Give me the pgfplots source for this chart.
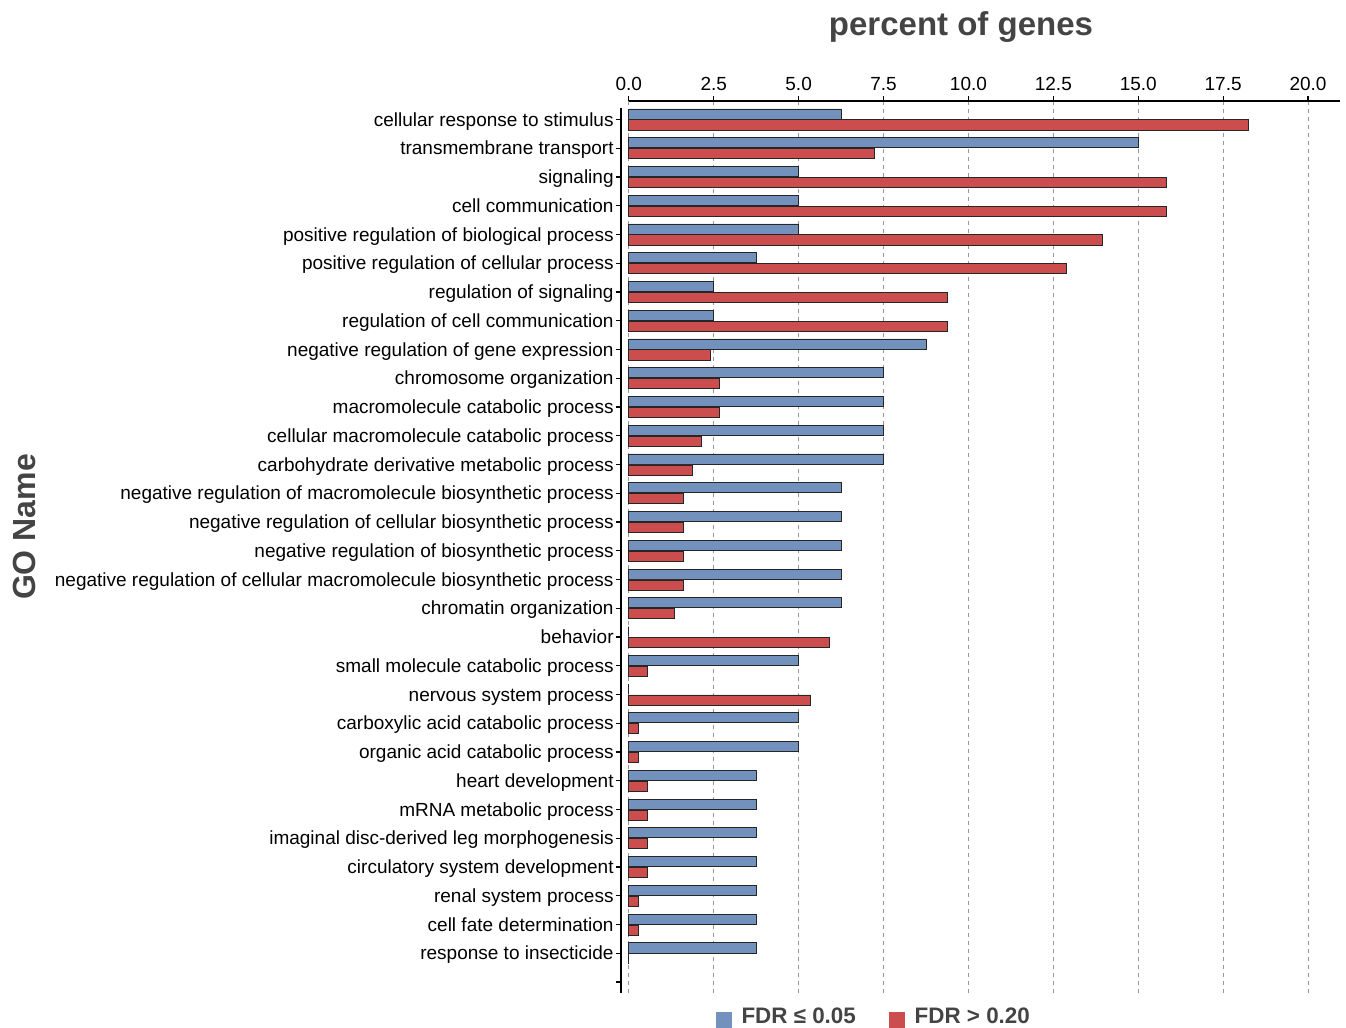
\documentclass[border=0pt]{standalone}
\usepackage{pgfplots}
\pgfplotsset{compat=1.18}
\usepackage{fontspec}
\setmainfont{Liberation Sans}
\definecolor{fdrblue}{HTML}{7391BD}
\definecolor{fdrred}{HTML}{CB4D4E}
\definecolor{titlegray}{HTML}{444444}
\begin{document}
\begin{tikzpicture}
\useasboundingbox (0,0) rectangle (673pt,-514pt);
\begin{axis}[
  at={(310.5pt,-50.5pt)}, anchor=north west,
  scale only axis, width=359.5pt, height=446pt,
  xmin=-0.23, xmax=20.94,
  ymin=-0.64, ymax=30.38, y dir=reverse,
  axis line style={draw=none},
  clip=false,
  xbar,
  bar width=0.35,
  xtick={0,2.5,...,20},
  xtick pos=upper, xticklabel pos=upper,
  xticklabel style={/pgf/number format/fixed,/pgf/number format/fixed zerofill,/pgf/number format/precision=1, yshift=-1pt},
  /pgf/number format/assume math mode=true,
  ytick={0,...,30},
  ytick pos=lower,
  yticklabels={cellular response to stimulus,transmembrane transport,signaling,cell communication,positive regulation of biological process,positive regulation of cellular process,regulation of signaling,regulation of cell communication,negative regulation of gene expression,chromosome organization,macromolecule catabolic process,cellular macromolecule catabolic process,carbohydrate derivative metabolic process,negative regulation of macromolecule biosynthetic process,negative regulation of cellular biosynthetic process,negative regulation of biosynthetic process,negative regulation of cellular macromolecule biosynthetic process,chromatin organization,behavior,small molecule catabolic process,nervous system process,carboxylic acid catabolic process,organic acid catabolic process,heart development,mRNA metabolic process,imaginal disc-derived leg morphogenesis,circulatory system development,renal system process,cell fate determination,response to insecticide,{}},
  tick align=outside,
  major tick length=2.5pt,
  tick style={black, line width=0.6pt},
  ticklabel style={font=\fontsize{9.5}{11}\selectfont, text=black},
  yticklabel style={inner sep=1pt, anchor=base east, yshift=-3.3pt},
  xmajorgrids,
  grid style={gray!80, dash pattern=on 2pt off 2pt, line width=0.5pt},
  legend columns=2,
  legend style={draw=none, fill=none, at={(0.353,-0.027)}, anchor=center,
    font=\bfseries\fontsize{11.2}{13}\selectfont, text=titlegray,
    /tikz/every even column/.append style={column sep=14.5pt}},
]
\addplot[fill=fdrblue, draw=black!85, line width=0.4pt, bar shift=-0.19,
  legend image code/.code={\fill[fdrblue] (0pt,-5.25pt) rectangle (7.5pt,2.25pt); \path (10.5pt,0pt);}]
coordinates {
(6.25,0) (15,1) (5,2) (5,3) (5,4) (3.75,5) (2.5,6) (2.5,7) (8.75,8) (7.5,9)
(7.5,10) (7.5,11) (7.5,12) (6.25,13) (6.25,14) (6.25,15) (6.25,16) (6.25,17) (0,18) (5,19)
(0,20) (5,21) (5,22) (3.75,23) (3.75,24) (3.75,25) (3.75,26) (3.75,27) (3.75,28) (3.75,29)
};
\addlegendentry{FDR ≤ 0.05}
\addplot[fill=fdrred, draw=black!85, line width=0.4pt, bar shift=0.19,
  legend image code/.code={\fill[fdrred] (0pt,-5.25pt) rectangle (7.5pt,2.25pt); \path (10.5pt,0pt);}]
coordinates {
(18.23,0) (7.24,1) (15.82,2) (15.82,3) (13.94,4) (12.87,5) (9.38,6) (9.38,7) (2.41,8) (2.68,9)
(2.68,10) (2.14,11) (1.88,12) (1.61,13) (1.61,14) (1.61,15) (1.61,16) (1.34,17) (5.90,18) (0.54,19)
(5.36,20) (0.27,21) (0.27,22) (0.54,23) (0.54,24) (0.54,25) (0.54,26) (0.27,27) (0.27,28) (0,29)
};
\addlegendentry{FDR > 0.20}
\draw[black, line width=0.6pt] (axis cs:0,-0.64) -- (axis cs:20.94,-0.64);
\draw[black, line width=1pt] (axis cs:-0.23,-0.38) -- (axis cs:-0.23,30.38);
\end{axis}
\node[font=\bfseries\fontsize{16.5}{19}\selectfont, text=titlegray] at (480.5pt,-13.5pt) {percent of genes};
\node[font=\bfseries\fontsize{16}{19}\selectfont, text=titlegray, rotate=90] at (12pt,-263.5pt) {GO Name};
\end{tikzpicture}
\end{document}
